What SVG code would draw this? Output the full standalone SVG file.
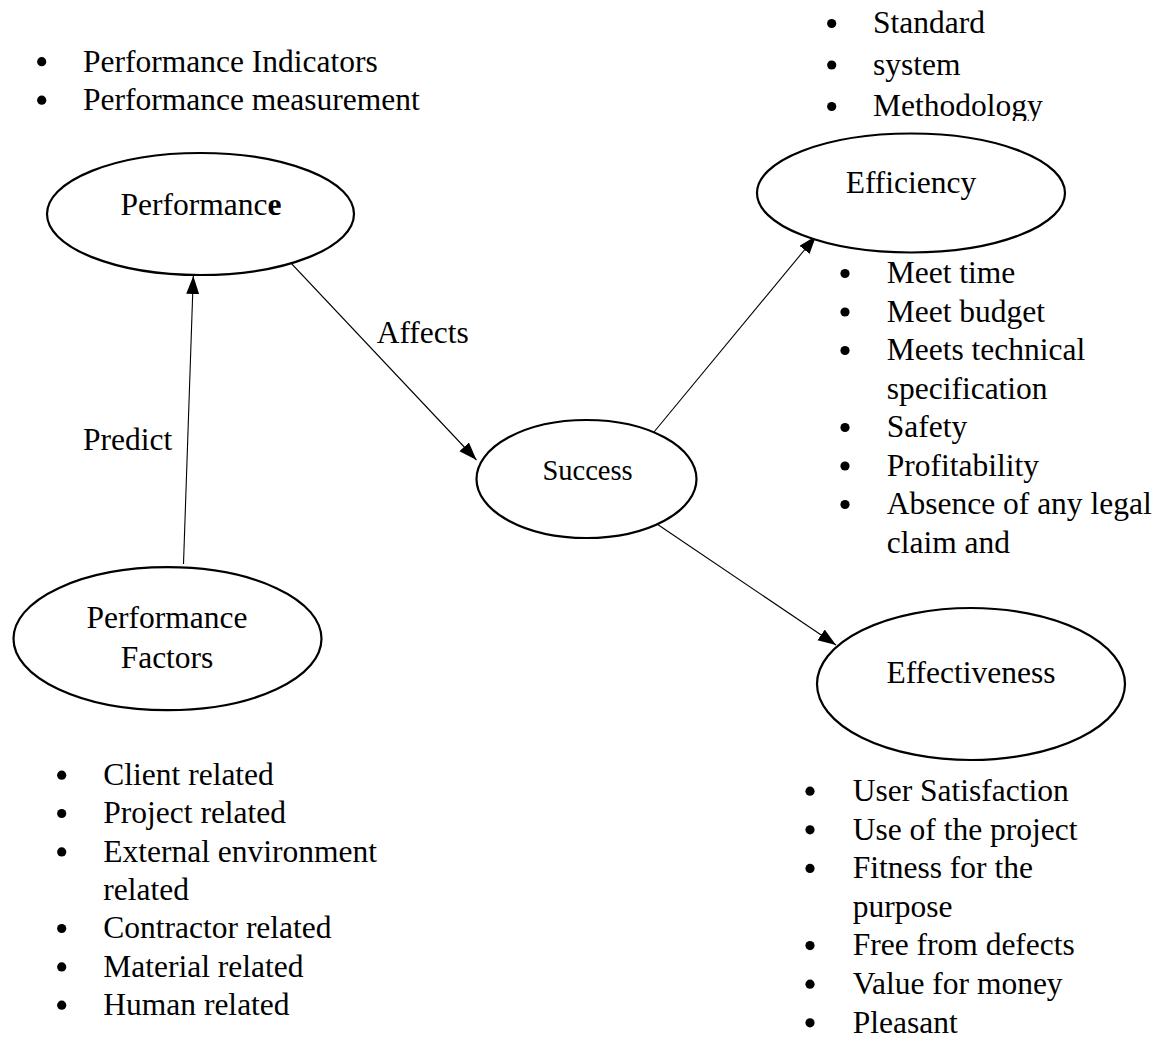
<svg xmlns="http://www.w3.org/2000/svg" width="1168" height="1038" viewBox="0 0 1168 1038">
<style>
text{font-family:"Liberation Serif","Times New Roman",serif;font-size:31.5px;fill:#000}
.node ellipse{fill:#fff;stroke:#000;stroke-width:2.2}
.lbl{text-anchor:middle}
.dot{fill:#000}
.conn line{stroke:#000;stroke-width:1.1;fill:none}
</style>
<defs>
<marker id="arr" markerUnits="userSpaceOnUse" markerWidth="19" markerHeight="14" refX="18" refY="6.5" orient="auto">
<path d="M0,0 L18,6.5 L0,13 z" fill="#000"/>
</marker>
<clipPath id="clipTop"><rect x="800" y="0" width="368" height="121"/></clipPath>
</defs>
<rect width="1168" height="1038" fill="#fff"/>

<g id="connectors" class="conn">
<line x1="183.5" y1="564" x2="193.3" y2="276" marker-end="url(#arr)"/>
<line x1="282.5" y1="254" x2="476.5" y2="460" marker-end="url(#arr)"/>
<line x1="654" y1="432" x2="816" y2="236" marker-end="url(#arr)"/>
<line x1="654" y1="522" x2="836" y2="645" marker-end="url(#arr)"/>
</g>

<g id="node-performance" class="node">
<ellipse cx="200.5" cy="214" rx="153.5" ry="61"/>
<text class="lbl" x="201" y="215">Performanc<tspan font-weight="bold">e</tspan></text>
</g>
<g id="node-efficiency" class="node">
<ellipse cx="911" cy="193" rx="154" ry="59.5"/>
<text class="lbl" x="911" y="192.7">Efficiency</text>
</g>
<g id="node-success" class="node">
<ellipse cx="586.5" cy="479" rx="110" ry="59"/>
<text class="lbl" x="587.5" y="480" style="font-size:28.5px">Success</text>
</g>
<g id="node-performance-factors" class="node">
<ellipse cx="167.5" cy="638.7" rx="154" ry="71.5"/>
<text class="lbl" x="167" y="628.3">Performance</text>
<text class="lbl" x="167" y="668.3">Factors</text>
</g>
<g id="node-effectiveness" class="node">
<ellipse cx="971" cy="684" rx="154" ry="76"/>
<text class="lbl" x="971" y="683">Effectiveness</text>
</g>

<g id="edge-labels">
<text x="83" y="450">Predict</text>
<text x="376.7" y="343">Affects</text>
</g>

<g id="list-performance">
<circle class="dot" cx="41.7" cy="61.7" r="4.6"/><text x="83" y="71.5">Performance Indicators</text>
<circle class="dot" cx="41.7" cy="100.2" r="4.6"/><text x="83" y="110">Performance measurement</text>
</g>

<g id="list-top-right">
<circle class="dot" cx="831.7" cy="23.5" r="4.6"/>
<circle class="dot" cx="831.7" cy="65" r="4.6"/>
<circle class="dot" cx="831.7" cy="106.5" r="4.6"/>
<g clip-path="url(#clipTop)">
<text x="873" y="33">Standard</text>
<text x="873" y="74.5">system</text>
<text x="873" y="116">Methodology</text>
</g>
</g>

<g id="list-efficiency">
<circle class="dot" cx="845" cy="273.5" r="4.6"/><text x="886.7" y="283.3">Meet time</text>
<circle class="dot" cx="845" cy="312" r="4.6"/><text x="886.7" y="321.8">Meet budget</text>
<circle class="dot" cx="845" cy="350.5" r="4.6"/><text x="886.7" y="360.3">Meets technical</text>
<text x="886.7" y="398.8">specification</text>
<circle class="dot" cx="845" cy="427.5" r="4.6"/><text x="886.7" y="437.3">Safety</text>
<circle class="dot" cx="845" cy="466" r="4.6"/><text x="886.7" y="475.8">Profitability</text>
<circle class="dot" cx="845" cy="504.5" r="4.6"/><text x="886.7" y="514.3">Absence of any legal</text>
<text x="886.7" y="552.8">claim and</text>
</g>

<g id="list-factors">
<circle class="dot" cx="61.7" cy="775.2" r="4.6"/><text x="103.3" y="785">Client related</text>
<circle class="dot" cx="61.7" cy="813.5" r="4.6"/><text x="103.3" y="823.3">Project related</text>
<circle class="dot" cx="61.7" cy="851.9" r="4.6"/><text x="103.3" y="861.7">External environment</text>
<text x="103.3" y="900">related</text>
<circle class="dot" cx="61.7" cy="928.5" r="4.6"/><text x="103.3" y="938.3">Contractor related</text>
<circle class="dot" cx="61.7" cy="966.9" r="4.6"/><text x="103.3" y="976.7">Material related</text>
<circle class="dot" cx="61.7" cy="1005.2" r="4.6"/><text x="103.3" y="1015">Human related</text>
</g>

<g id="list-effectiveness">
<circle class="dot" cx="810" cy="791.2" r="4.6"/><text x="852.7" y="801">User Satisfaction</text>
<circle class="dot" cx="810" cy="829.8" r="4.6"/><text x="852.7" y="839.6">Use of the project</text>
<circle class="dot" cx="810" cy="868.4" r="4.6"/><text x="852.7" y="878.2">Fitness for the</text>
<text x="852.7" y="916.8">purpose</text>
<circle class="dot" cx="810" cy="945.6" r="4.6"/><text x="852.7" y="955.4">Free from defects</text>
<circle class="dot" cx="810" cy="984.2" r="4.6"/><text x="852.7" y="994">Value for money</text>
<circle class="dot" cx="810" cy="1022.8" r="4.6"/><text x="852.7" y="1032.6">Pleasant</text>
</g>
</svg>
